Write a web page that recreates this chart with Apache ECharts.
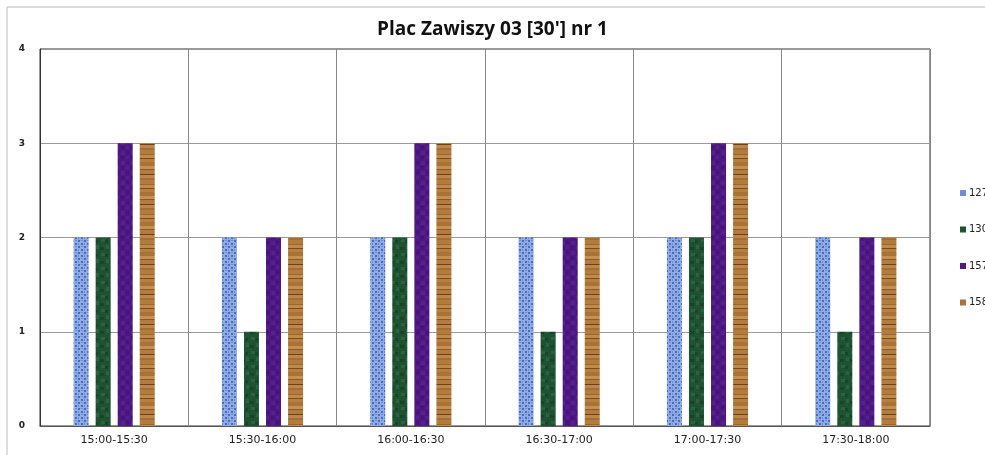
<!DOCTYPE html>
<html>
<head>
<meta charset="utf-8">
<script src="https://cdn.jsdelivr.net/npm/echarts@6/dist/echarts.min.js"></script>
<style>
  html, body { margin: 0; padding: 0; background: #fff; }
  #chart { width: 985px; height: 455px; }
</style>
</head>
<body>
<div id="chart"></div>
<script>
const categories = ['15:00-15:30', '15:30-16:00', '16:00-16:30', '16:30-17:00', '17:00-17:30', '17:30-18:00'];
const seriesNames = ['127', '130', '157', '158'];
const s127 = [2, 2, 2, 2, 2, 2];
const s130 = [2, 1, 2, 1, 2, 1];
const s157 = [3, 2, 3, 2, 3, 2];
const s158 = [3, 2, 3, 2, 3, 2];

// small tiles imitating the Excel texture fills
function makeTile(w, h, draw) {
    const c = document.createElement('canvas');
    c.width = w; c.height = h;
    draw(c.getContext('2d'), w, h);
    return { image: c, repeat: 'repeat' };
}

const blueFill = makeTile(6, 6, (ctx, w, h) => {
    ctx.fillStyle = '#90ace6'; ctx.fillRect(0, 0, w, h);
    ctx.fillStyle = '#4a6cb8';
    ctx.fillRect(0, 0, 2, 2); ctx.fillRect(3, 3, 2, 2);
    ctx.fillStyle = '#6d8dd2';
    ctx.fillRect(3, 0, 2, 1); ctx.fillRect(0, 3, 1, 2);
});
const greenFill = makeTile(10, 14, (ctx, w, h) => {
    ctx.fillStyle = '#1f5232'; ctx.fillRect(0, 0, w, h);
    ctx.fillStyle = '#2a6340';
    ctx.fillRect(1, 1, 4, 3); ctx.fillRect(6, 7, 3, 4);
    ctx.fillStyle = '#18442a';
    ctx.fillRect(5, 2, 3, 3); ctx.fillRect(0, 9, 4, 3);
});
const purpleFill = makeTile(10, 10, (ctx, w, h) => {
    ctx.fillStyle = '#4d1882'; ctx.fillRect(0, 0, w, h);
    ctx.fillStyle = '#571f90';
    ctx.fillRect(1, 1, 4, 4); ctx.fillRect(6, 6, 3, 3);
    ctx.fillStyle = '#44137a';
    ctx.fillRect(6, 1, 3, 3); ctx.fillRect(1, 6, 3, 3);
});
const brownFill = makeTile(15, 30, (ctx, w, h) => {
    const bands = [['#b27c3e', 4], ['#9c6630', 1], ['#c08a4a', 3], ['#7a4a20', 1], ['#b8803e', 3],
                   ['#a87238', 4], ['#c69050', 3], ['#8c5a28', 1], ['#b27c40', 4], ['#6e4018', 1],
                   ['#bd864a', 3], ['#a46e34', 2]];
    let y = 0;
    bands.forEach(([col, hgt]) => { ctx.fillStyle = col; ctx.fillRect(0, y, w, hgt); y += hgt; });
});

const fills = [blueFill, greenFill, purpleFill, brownFill];
const legendColors = ['#6f90d8', '#1f5232', '#4d1882', '#a8743a'];
const values = [s127, s130, s157, s158];

const chart = echarts.init(document.getElementById('chart'));

chart.setOption({
    animation: false,
    title: {
        text: "Plac Zawiszy 03 [30'] nr 1",
        left: 'center',
        top: 15,
        textStyle: { fontFamily: 'Open Sans', fontSize: 19, fontWeight: 'bold', color: '#111' }
    },
    graphic: [
        { type: 'line', shape: { x1: 7, y1: 7, x2: 985, y2: 7 }, style: { stroke: '#bbb', lineWidth: 1 } },
        { type: 'line', shape: { x1: 7, y1: 7, x2: 7, y2: 455 }, style: { stroke: '#bbb', lineWidth: 1 } }
    ],
    legend: {
        orient: 'vertical',
        left: 955,
        top: 183,
        itemWidth: 6,
        itemHeight: 6,
        itemGap: 26.5,
        icon: 'rect',
        textStyle: { fontSize: 10, color: '#222', fontFamily: 'DejaVu Sans', padding: [0, 0, 0, -2] },
        data: seriesNames.map((n, i) => ({ name: n, itemStyle: { color: legendColors[i] } }))
    },
    grid: {
        left: 40, top: 49, right: 55, bottom: 29,
        show: true, borderColor: '#333', borderWidth: 1
    },
    xAxis: {
        type: 'category',
        data: categories,
        axisLine: { lineStyle: { color: '#555' } },
        axisTick: { show: false },
        splitLine: { show: true, lineStyle: { color: '#888' } },
        axisLabel: { color: '#222', fontSize: 11, fontFamily: 'DejaVu Sans', margin: 9 }
    },
    yAxis: {
        type: 'value',
        min: 0, max: 4, interval: 1,
        axisLine: { show: true, lineStyle: { color: '#333' } },
        axisTick: { show: false },
        splitLine: { lineStyle: { color: '#999' } },
        axisLabel: { color: '#222', fontSize: 9, fontWeight: 'bold', fontFamily: 'DejaVu Sans', margin: 15 }
    },
    series: seriesNames.map((n, i) => ({
        name: n,
        type: 'bar',
        data: values[i],
        barWidth: 15,
        barGap: '47%',
        itemStyle: { color: fills[i] }
    }))
});
</script>
</body>
</html>
